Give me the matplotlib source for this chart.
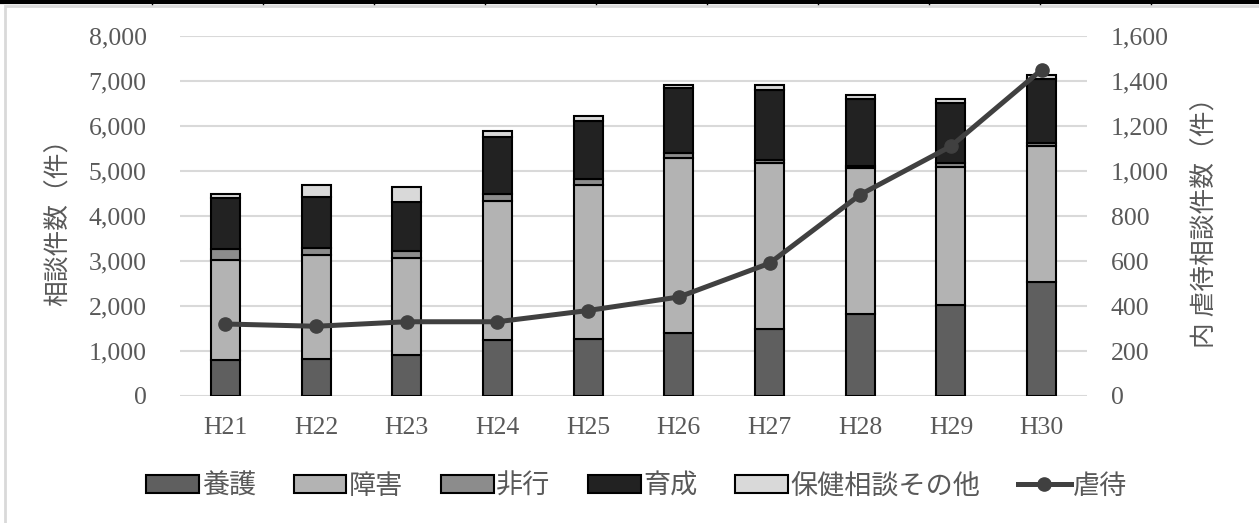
import matplotlib
matplotlib.use('Agg')
import matplotlib.pyplot as plt
from matplotlib.lines import Line2D
from matplotlib.patches import Rectangle
import numpy as np

############################################### Data ###################################################################
years = ['H21', 'H22', 'H23', 'H24', 'H25', 'H26', 'H27', 'H28', 'H29', 'H30']
yougo = [800, 820, 910, 1240, 1270, 1410, 1500, 1820, 2020, 2540]       # 養護
shougai = [2220, 2310, 2150, 3090, 3420, 3890, 3680, 3240, 3060, 3020]  # 障害
hikou = [240, 150, 170, 150, 130, 100, 70, 50, 90, 60]                  # 非行
ikusei = [1130, 1150, 1090, 1270, 1300, 1440, 1560, 1500, 1350, 1420]   # 育成
hoken = [110, 260, 320, 130, 110, 70, 110, 90, 70, 100]                 # 保健相談その他
gyakutai = [320, 310, 330, 330, 380, 440, 590, 895, 1110, 1450]          # 虐待 (right axis)

series_names = ['養護', '障害', '非行', '育成', '保健相談その他']
series_colors = ['#5f5f5f', '#b3b3b3', '#8c8c8c', '#222222', '#d9d9d9']
line_name = '虐待'
line_color = '#404040'

############################################### Fonts ##################################################################
num_font = ['Liberation Serif', 'Noto Sans CJK JP']
jp_font = ['Noto Sans CJK JP', 'DejaVu Sans']
txt_col = '#595959'

############################################### Figure #################################################################
fig = plt.figure(figsize=(12.59, 5.23), dpi=100)
ax = fig.add_axes([180 / 1259, 127 / 523, 907 / 1259, 360 / 523])
ax2 = ax.twinx()

x = np.arange(len(years))
bottom = np.zeros(len(years))
for vals, name, col in zip([yougo, shougai, hikou, ikusei, hoken], series_names, series_colors):
    ax.bar(x, vals, width=0.32, bottom=bottom, color=col, edgecolor='black', linewidth=1.5,
           label=name, zorder=3)
    bottom += np.array(vals)

ax2.plot(x, gyakutai, color=line_color, linewidth=3.6, marker='o', markersize=9.5, zorder=5)

ax.set_xlim(-0.5, len(years) - 0.5)
ax.set_ylim(0, 8000)
ax2.set_ylim(0, 1600)
ax.set_yticks(np.arange(0, 8001, 1000))
ax2.set_yticks(np.arange(0, 1601, 200))
ax.set_yticklabels([f'{v:,}' for v in range(0, 8001, 1000)])
ax2.set_yticklabels([f'{v:,}' for v in range(0, 1601, 200)])
ax.set_xticks(x)
ax.set_xticklabels(years)

ax.grid(axis='y', color='#d9d9d9', linewidth=1.5, zorder=0)
ax.set_axisbelow(True)
for a in (ax, ax2):
    for sp in a.spines.values():
        sp.set_visible(False)
    a.tick_params(length=0, labelcolor=txt_col)
    for lab in a.get_xticklabels() + a.get_yticklabels():
        lab.set_fontfamily(num_font)
        lab.set_fontsize(18.5)
ax.tick_params(axis='y', pad=24)
ax2.tick_params(axis='y', pad=17)
ax.tick_params(axis='x', pad=15)
ax2.patch.set_visible(False)

ax.set_ylabel('相談件数（件）', family=jp_font, fontsize=18.5, color=txt_col)
ax2.set_ylabel('内 虐待相談件数（件）', family=jp_font, fontsize=18.5, color=txt_col, rotation=90)
ax.yaxis.set_label_coords((72 - 180) / 907, 0.5)
ax2.yaxis.set_label_coords((1193 - 180) / 907, 0.5)

############################################### Legend #################################################################
handles, labels = ax.get_legend_handles_labels()
handles.append(Line2D([], [], color=line_color, linewidth=3.6, marker='o', markersize=9.5))
labels.append(line_name)
leg = fig.legend(handles, labels, loc='center', bbox_to_anchor=(637 / 1259, 1 - 486 / 523), ncol=6,
                 frameon=False, prop={'family': jp_font, 'size': 19.5}, handlelength=1.95, handleheight=0.6,
                 handletextpad=0.1, columnspacing=1.38, labelcolor=txt_col)

############################################### Frame ##################################################################
fig.patches.append(Rectangle((5 / 1259, -0.01), 1.02, (523 - 6) / 523 + 0.01, transform=fig.transFigure,
                             fill=False, edgecolor='#d9d9d9', linewidth=2))
fig.add_artist(Line2D([0, 1], [1 - 1.5 / 523, 1 - 1.5 / 523], transform=fig.transFigure, color='black',
                      linewidth=3))
for xv in [152, 263, 374, 485, 596, 707, 818, 929, 1040, 1151]:
    fig.add_artist(Line2D([xv / 1259, xv / 1259], [1, 1 - 4 / 523], transform=fig.transFigure,
                          color='black', linewidth=1))

fig.savefig('out.png', dpi=100)
